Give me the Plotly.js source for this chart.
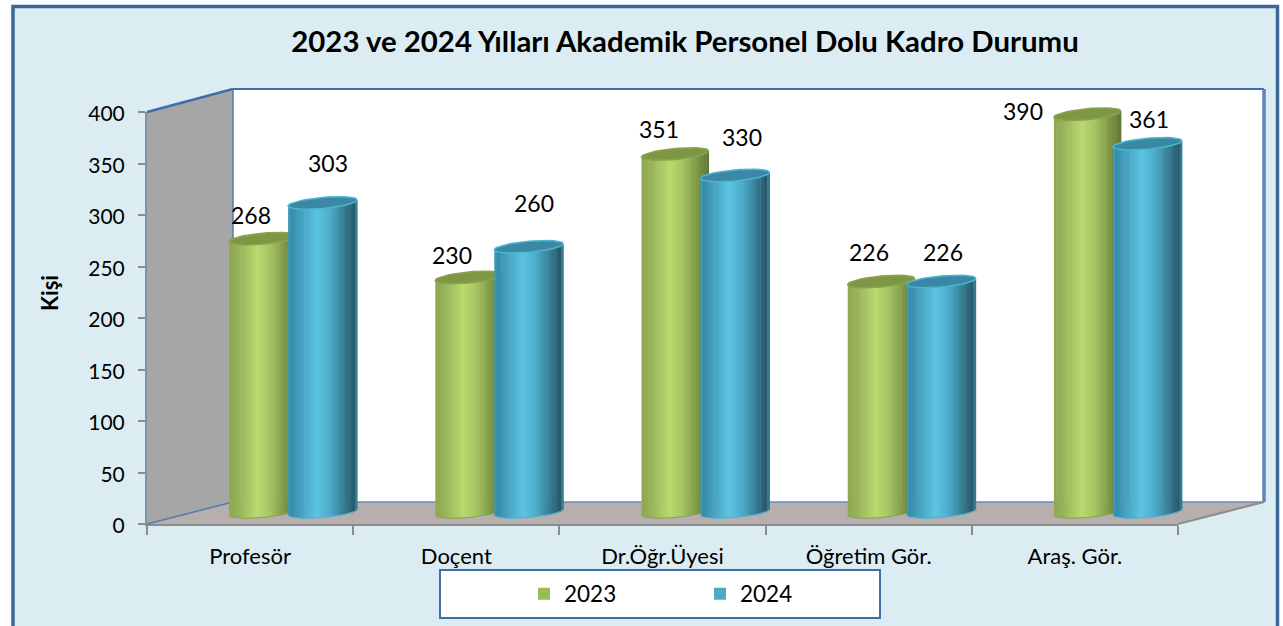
<!DOCTYPE html>
<html><head><meta charset="utf-8">
<script src="https://cdn.plot.ly/plotly-3.0.1.min.js"></script>
<style>html,body{margin:0;padding:0;background:#fff;overflow:hidden}</style>
</head><body><div id="chart" style="width:1283px;height:626px"></div>
<script>
const categories = ["Profesör","Doçent","Dr.Öğr.Üyesi","Öğretim Gör.","Araş. Gör."];
const values2023 = [268,230,351,226,390];
const values2024 = [303,260,330,226,361];
const seriesNames = ["2023","2024"];
const yTicks = [0,50,100,150,200,250,300,350,400];
const titleText = "2023 ve 2024 Yılları Akademik Personel Dolu Kadro Durumu";
const yTitle = "Kişi";

// label placement relative to each cylinder pair, in pixels
const labelDx2023 = [-42,-47,-47,-43,-95];
const labelUp2023 = [24,22,25,29,3];
const labelDx2024 = [35,35,36,31,31];
const labelUp2024 = [40,44,38,29,25];

const W=1283,H=626;
const fx=p=>p/W, fy=p=>1-p/H;
const pxPerCat=206.25, pxPerUnit=1.02, baseY=512;
const N=30, RY=5.5, TILT=3;
const font="Lato, Carlito, 'Liberation Sans', sans-serif";

function mix(stops,t){
  for(let i=1;i<stops.length;i++){ if(t<=stops[i][0]){
    const a=stops[i-1],b=stops[i],k=(t-a[0])/(b[0]-a[0]||1);
    return 'rgb('+[0,1,2].map(c=>Math.round(a[1][c]+(b[1][c]-a[1][c])*k)).join(',')+')';
  }}
  const l=stops[stops.length-1][1];return 'rgb('+l.join(',')+')';
}
const greenStops=[[0,[142,168,82]],[0.12,[150,176,88]],[0.42,[184,218,112]],[0.62,[164,196,100]],[0.85,[122,146,68]],[1,[96,118,52]]];
const blueStops=[[0,[70,170,198]],[0.03,[52,138,168]],[0.15,[66,156,186]],[0.42,[92,196,226]],[0.62,[76,170,200]],[0.85,[50,114,136]],[0.97,[38,84,102]],[1,[70,170,198]]];

function cylinder(vals,name,color,stops,left,width,capColor,capLine,xa,ya){
  const idx=vals.map((_,i)=>i), out=[];
  out.push({type:'bar',name,x:idx,y:vals,offset:(left+width*0.3)/pxPerCat,width:width*0.4/pxPerCat,marker:{color},xaxis:xa,yaxis:ya,showlegend:true,hoverinfo:'x+y'});
  for(let k=0;k<N;k++){
    const u=-1+(2*k+1)/N, d=RY*Math.sqrt(1-u*u)/pxPerUnit, s=TILT*u/pxPerUnit;
    out.push({type:'bar',x:idx,y:vals.map(v=>v+d),base:vals.map(()=>s-d),
      offset:(left+width*k/N)/pxPerCat,width:(width/N+0.5)/pxPerCat,
      marker:{color:mix(stops,(k+0.5)/N),line:{width:0}},xaxis:xa,yaxis:ya,showlegend:false,hoverinfo:'skip'});
  }
  const cx=[],cy=[],bx=[],by=[];
  idx.forEach(i=>{
    const c=i+(left+width/2)/pxPerCat;
    for(let a=0;a<=48;a++){
      const t=a/48*2*Math.PI, dx=width/2*Math.cos(t), dy=RY*Math.sin(t)+TILT*Math.cos(t);
      cx.push(c+dx/pxPerCat); cy.push(vals[i]+dy/pxPerUnit);
    }
    cx.push(null);cy.push(null);
    for(let a=0;a<=24;a++){
      const t=a/24*Math.PI, dx=width/2*Math.cos(t), dy=-RY*Math.sin(t)+TILT*Math.cos(t);
      bx.push(c+dx/pxPerCat); by.push(dy/pxPerUnit);
    }
    bx.push(null);by.push(null);
  });
  out.push({type:'scatter',mode:'lines',x:cx,y:cy,fill:'toself',fillcolor:capColor,
    line:{color:capLine,width:1.5},xaxis:xa,yaxis:ya,showlegend:false,hoverinfo:'skip'});
  out.push({type:'scatter',mode:'lines',x:bx,y:by,line:{color:capLine,width:1},cliponaxis:false,
    xaxis:xa,yaxis:ya,showlegend:false,hoverinfo:'skip'});
  return out;
}

const traces=[
  {type:'bar',x:categories,y:categories.map(()=>null),xaxis:'x',yaxis:'y',showlegend:false,hoverinfo:'skip'},
  ...cylinder(values2023,seriesNames[0],'#9BBB59',greenStops,-64,67,'#7f9745','#8aa34c','x2','y2'),
  ...cylinder(values2024,seriesNames[1],'#4BACC6',blueStops,-5,69,'#3b88a5','#4ab4d3','x3','y3')
];

const poly=(pts,fill,line,lw)=>({type:'path',xref:'paper',yref:'paper',layer:'below',
  path:'M'+pts.map(p=>fx(p[0])+','+fy(p[1])).join('L')+'Z',fillcolor:fill,line:{color:line||'rgba(0,0,0,0)',width:lw||0}});
const seg=(a,b,c,w)=>({type:'line',xref:'paper',yref:'paper',layer:'below',x0:fx(a[0]),y0:fy(a[1]),x1:fx(b[0]),y1:fy(b[1]),line:{color:c,width:w}});

const shapes=[
  poly([[13,6.5],[1277.5,6.5],[1277.5,660],[13,660]],'#DBEDF3','#3C6797',3.5),
  poly([[233,89],[1264,89],[1264,502],[233,502]],'#FFFFFF'),
  poly([[147,112],[233,89],[233,502],[147,524]],'#A6A6A6'),
  poly([[147,524],[233,502],[1264,502],[1178,524]],'#B7AEAE'),
  seg([147,112],[233,89],'#3F6FA8',2.5),
  seg([233,89],[1264,89],'#3F6FA8',2),
  seg([233,89],[233,502],'#4F7CB2',1.5),
  seg([1264,89],[1264,502],'#5B86B8',3.5),
  seg([233,502],[1264,502],'#6B8DB5',1.5),
  seg([147,524],[233,502],'#4F7CB2',1.5),
  seg([1178,524],[1264,502],'#8C8C8C',2),
  poly([[440,570],[880,570],[880,618],[440,618]],'#FFFFFF','#3F6FA8',2)
];

function labels(vals,dx,up,xa,ya){
  return vals.map((v,i)=>({x:i,y:v,xref:xa,yref:ya,text:String(v),showarrow:false,
    xshift:dx[i],yshift:up[i],xanchor:'center',yanchor:'middle',font:{family:font,size:23,color:'#000'}}));
}

const y2lo=(baseY+20*pxPerUnit), y2hi=(baseY-420*pxPerUnit);
const layout={
  width:W,height:H,margin:{l:0,r:0,t:0,b:0},paper_bgcolor:'#fff',plot_bgcolor:'rgba(0,0,0,0)',
  barmode:'overlay',font:{family:font,color:'#000'},
  title:{text:'<b>'+titleText+'</b>',x:fx(685),xanchor:'center',y:fy(42),yanchor:'middle',font:{family:font,size:29.4,color:'#000'}},
  xaxis:{type:'category',domain:[fx(147),fx(1178)],anchor:'y',categoryorder:'array',categoryarray:categories,
    range:[-0.5,4.5],tickson:'boundaries',ticks:'outside',ticklen:9,tickwidth:2,tickcolor:'#8C8C8C',ticklabelstandoff:12,
    showline:true,linecolor:'#8C8C8C',linewidth:2,showgrid:false,zeroline:false,tickfont:{family:font,size:22,color:'#000'},fixedrange:true},
  yaxis:{domain:[fy(524),fy(112)],anchor:'x',range:[0,400],tickvals:yTicks,ticks:'outside',ticklen:7,tickwidth:2,tickcolor:'#8C8C8C',ticklabelstandoff:9,ticklabelshift:2,
    showline:true,linecolor:'#7F93AD',linewidth:2,showgrid:false,zeroline:false,tickfont:{family:font,size:21,color:'#000'},fixedrange:true},
  xaxis2:{domain:[fx(190),fx(1221)],anchor:'y2',range:[-0.5,4.5],visible:false,fixedrange:true},
  yaxis2:{domain:[fy(y2lo),fy(y2hi)],anchor:'x2',range:[-20,420],visible:false,fixedrange:true},
  xaxis3:{overlaying:'x2',anchor:'y3',range:[-0.5,4.5],visible:false,fixedrange:true},
  yaxis3:{overlaying:'y2',anchor:'x3',range:[-20,420],visible:false,fixedrange:true},
  shapes,
  annotations:[...labels(values2023,labelDx2023,labelUp2023,'x3','y3'),...labels(values2024,labelDx2024,labelUp2024,'x3','y3'),
    {xref:'paper',yref:'paper',x:fx(49),y:fy(293),text:'<b>'+yTitle+'</b>',textangle:-90,showarrow:false,xanchor:'center',yanchor:'middle',font:{family:font,size:22,color:'#000'}}],
  legend:{orientation:'h',x:fx(524),xanchor:'left',y:fy(594),yanchor:'middle',bgcolor:'rgba(0,0,0,0)',borderwidth:0,
    entrywidth:131,entrywidthmode:'pixels',font:{family:font,size:22.5,color:'#000'},itemclick:false,itemdoubleclick:false},
  showlegend:true
};
Plotly.newPlot('chart',traces,layout,{displayModeBar:false,staticPlot:true});
</script></body></html>
